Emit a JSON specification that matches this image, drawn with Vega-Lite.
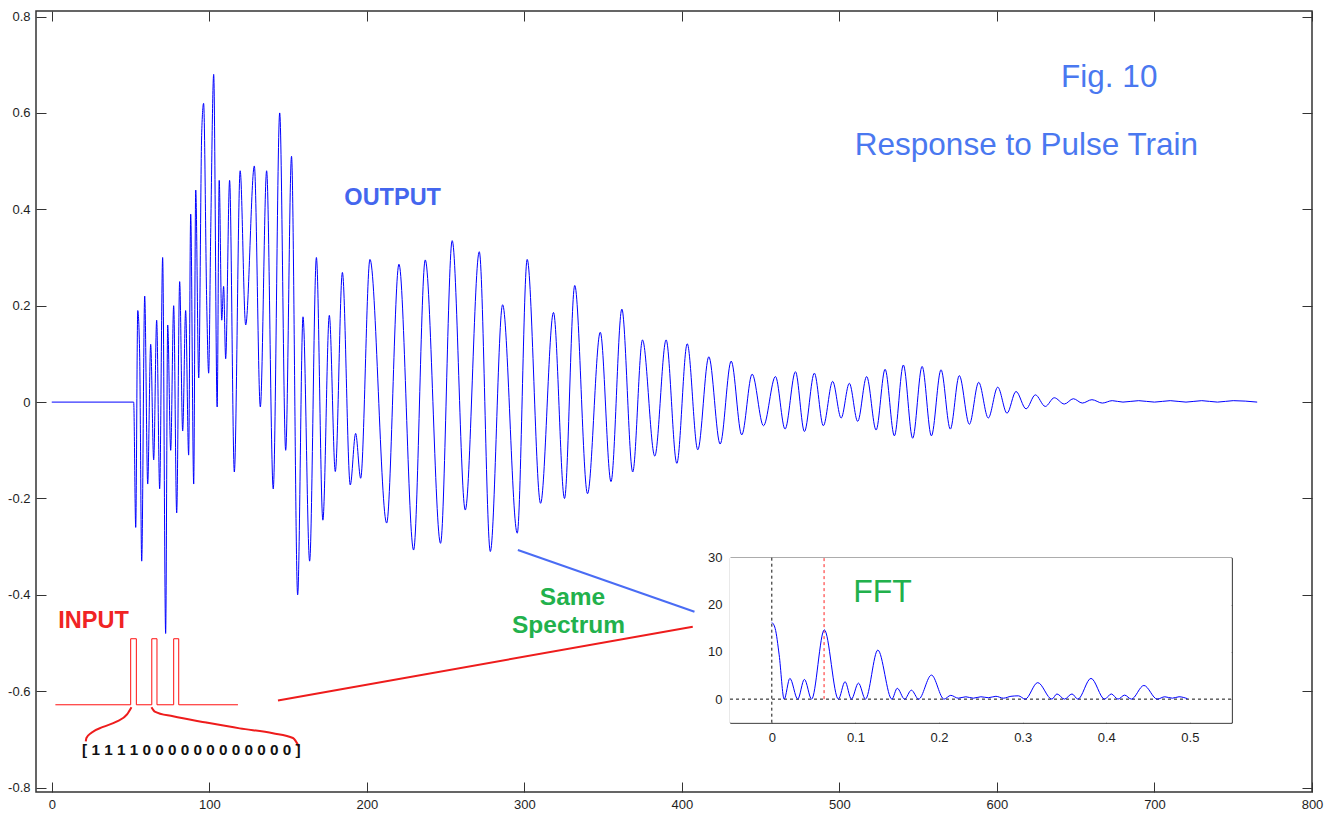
{
"$schema":"https://vega.github.io/schema/vega-lite/v6.json",
"width":1276,"height":781,
"autosize":"none",
"padding":{"left":36,"top":11,"right":28,"bottom":23},
"background":"white",
"config":{"view":{"stroke":"#333","strokeWidth":1.5},
 "axis":{"grid":false,"title":null,"labelFont":"Liberation Sans","labelFontSize":13,"labelColor":"#1e1e1e","tickColor":"#333","domainColor":"#222","domainWidth":1.2,"zindex":1,"labelFlush":false,"labelOverlap":false}},
"datasets":{
"out":[{"x":0,"y":0},{"x":52,"y":0},{"x":53.3,"y":-0.26},{"x":54.6,"y":0.19},{"x":55.8,"y":0.10},{"x":57.1,"y":-0.33},{"x":59.0,"y":0.22},{"x":60.9,"y":-0.17},{"x":62.8,"y":0.12},{"x":64.7,"y":-0.12},{"x":66.6,"y":0.17},{"x":68.5,"y":-0.18},{"x":70.4,"y":0.30},{"x":72.3,"y":-0.48},{"x":73.6,"y":0.16},{"x":75.5,"y":-0.10},{"x":77.4,"y":0.20},{"x":79.3,"y":-0.23},{"x":81.2,"y":0.25},{"x":83.1,"y":-0.06},{"x":85.0,"y":0.19},{"x":86.9,"y":-0.11},{"x":88.2,"y":0.39},{"x":90.1,"y":-0.17},{"x":91.4,"y":0.44},{"x":93.3,"y":0.05},{"x":95.2,"y":0.56},{"x":96.4,"y":0.62},{"x":98.4,"y":0.20},{"x":99.6,"y":0.06},{"x":100.9,"y":0.35},{"x":102.8,"y":0.68},{"x":105.0,"y":-0.01},{"x":106.3,"y":0.46},{"x":107.9,"y":0.17},{"x":109.1,"y":0.24},{"x":110.4,"y":0.09},{"x":112.9,"y":0.46},{"x":115.9,"y":-0.145},{"x":119.6,"y":0.48},{"x":123.1,"y":0.16},{"x":128.6,"y":0.49},{"x":132.4,"y":-0.01},{"x":136.4,"y":0.48},{"x":140.6,"y":-0.18},{"x":144.7,"y":0.60},{"x":148.5,"y":-0.10},{"x":152.2,"y":0.51},{"x":156.1,"y":-0.40},{"x":159.5,"y":0.177},{"x":163.7,"y":-0.33},{"x":168.0,"y":0.30},{"x":172.1,"y":-0.245},{"x":176.2,"y":0.18},{"x":180.0,"y":-0.144},{"x":184.5,"y":0.269},{"x":189.5,"y":-0.172},{"x":192.9,"y":-0.065},{"x":196.1,"y":-0.158},{"x":202.0,"y":0.296},{"x":212.6,"y":-0.251},{"x":220.4,"y":0.286},{"x":229.7,"y":-0.307},{"x":237.1,"y":0.295},{"x":246.8,"y":-0.293},{"x":254.2,"y":0.335},{"x":262.5,"y":-0.224},{"x":271.4,"y":0.312},{"x":278.4,"y":-0.31},{"x":286.2,"y":0.202},{"x":295.5,"y":-0.272},{"x":301.8,"y":0.296},{"x":310.3,"y":-0.21},{"x":318.5,"y":0.186},{"x":325.5,"y":-0.20},{"x":332.0,"y":0.242},{"x":340.1,"y":-0.19},{"x":348.2,"y":0.145},{"x":355.0,"y":-0.165},{"x":361.9,"y":0.193},{"x":368.8,"y":-0.145},{"x":375.0,"y":0.129},{"x":382.8,"y":-0.112},{"x":390.0,"y":0.129},{"x":396.8,"y":-0.127},{"x":403.4,"y":0.121},{"x":410.1,"y":-0.099},{"x":417.1,"y":0.094},{"x":424.3,"y":-0.087},{"x":431.3,"y":0.085},{"x":438.0,"y":-0.068},{"x":444.6,"y":0.058},{"x":451.8,"y":-0.049},{"x":459.4,"y":0.053},{"x":465.5,"y":-0.056},{"x":472.1,"y":0.063},{"x":477.8,"y":-0.061},{"x":484.1,"y":0.06},{"x":489.8,"y":-0.049},{"x":495.7,"y":0.043},{"x":501.1,"y":-0.033},{"x":506.3,"y":0.039},{"x":511.6,"y":-0.04},{"x":517.3,"y":0.053},{"x":523.3,"y":-0.058},{"x":529.0,"y":0.068},{"x":534.9,"y":-0.07},{"x":540.6,"y":0.077},{"x":546.5,"y":-0.075},{"x":552.5,"y":0.074},{"x":558.4,"y":-0.07},{"x":564.5,"y":0.067},{"x":570.4,"y":-0.056},{"x":576.1,"y":0.055},{"x":582.5,"y":-0.046},{"x":588.4,"y":0.041},{"x":594.5,"y":-0.033},{"x":600.5,"y":0.031},{"x":606.4,"y":-0.023},{"x":612.1,"y":0.022},{"x":618.5,"y":-0.014},{"x":624.4,"y":0.015},{"x":630.7,"y":-0.009},{"x":636.4,"y":0.009},{"x":642.8,"y":-0.004},{"x":648.5,"y":0.007},{"x":654.2,"y":-0.002},{"x":660.3,"y":0.005},{"x":666.9,"y":-0.002},{"x":673.2,"y":0.003},{"x":680,"y":0.0},{"x":690,"y":0.003},{"x":700,"y":0.0},{"x":710,"y":0.003},{"x":720,"y":0.0},{"x":730,"y":0.003},{"x":740,"y":0},{"x":750,"y":0.003},{"x":765.2,"y":0}],
"fft":[{"x":0,"y":16.3},{"x":0.004,"y":15.0},{"x":0.0088,"y":9.4},{"x":0.0148,"y":0},{"x":0.0216,"y":4.4},{"x":0.031,"y":0},{"x":0.039,"y":4.2},{"x":0.0476,"y":0},{"x":0.0628,"y":14.7},{"x":0.0796,"y":0},{"x":0.0876,"y":3.7},{"x":0.0952,"y":0},{"x":0.1036,"y":3.4},{"x":0.112,"y":0},{"x":0.1268,"y":10.4},{"x":0.1436,"y":0},{"x":0.15,"y":2.3},{"x":0.1588,"y":0},{"x":0.1669,"y":1.9},{"x":0.1756,"y":0},{"x":0.1909,"y":5.1},{"x":0.206,"y":0},{"x":0.214,"y":0.8},{"x":0.223,"y":0.2},{"x":0.232,"y":0.5},{"x":0.241,"y":0.2},{"x":0.25,"y":0.5},{"x":0.259,"y":0.3},{"x":0.268,"y":0.6},{"x":0.277,"y":0.2},{"x":0.286,"y":0.6},{"x":0.295,"y":0.7},{"x":0.303,"y":0},{"x":0.318,"y":3.5},{"x":0.335,"y":0},{"x":0.341,"y":1.1},{"x":0.35,"y":0},{"x":0.359,"y":1.1},{"x":0.366,"y":0},{"x":0.3817,"y":4.4},{"x":0.398,"y":0},{"x":0.406,"y":1.1},{"x":0.414,"y":0},{"x":0.422,"y":0.85},{"x":0.43,"y":0},{"x":0.445,"y":2.9},{"x":0.461,"y":0},{"x":0.47,"y":0.5},{"x":0.479,"y":0.2},{"x":0.487,"y":0.5},{"x":0.497,"y":0.1}]
},
"layer":[
{"data":{"name":"out"},
 "mark":{"type":"line","color":"#0000ff","strokeWidth":1,"interpolate":"monotone"},
 "encoding":{
  "x":{"field":"x","type":"quantitative","scale":{"domain":[-10,800],"nice":false,"zero":false},
   "axis":{"orient":"bottom","values":[0,100,200,300,400,500,600,700,800],"labelExpr":"''+datum.value","tickSize":-10,"labelPadding":16,"domain":false}},
  "y":{"field":"y","type":"quantitative","scale":{"domain":[-0.809,0.8115],"nice":false,"zero":false},
   "axis":{"orient":"left","values":[-0.8,-0.6,-0.4,-0.2,0,0.2,0.4,0.6,0.8],"labelExpr":"''+datum.value","tickSize":-10,"labelPadding":16,"domain":false}}}},
{"data":{"values":[{"i":0,"x":2.3,"y":-0.628},{"i":1,"x":50.1,"y":-0.628},{"i":2,"x":50.1,"y":-0.491},{"i":3,"x":53.7,"y":-0.491},{"i":4,"x":53.7,"y":-0.628},{"i":5,"x":63.5,"y":-0.628},{"i":6,"x":63.5,"y":-0.491},{"i":7,"x":66.8,"y":-0.491},{"i":8,"x":66.8,"y":-0.628},{"i":9,"x":77.4,"y":-0.628},{"i":10,"x":77.4,"y":-0.491},{"i":11,"x":80.6,"y":-0.491},{"i":12,"x":80.6,"y":-0.628},{"i":13,"x":118.2,"y":-0.628}]},
 "mark":{"type":"line","color":"#ff1010","strokeWidth":1},
 "encoding":{"order":{"field":"i","type":"quantitative"},
  "x":{"field":"x","type":"quantitative","scale":{"domain":[-10,800],"nice":false,"zero":false},
   "axis":{"orient":"top","values":[0,100,200,300,400,500,600,700,800],"labels":false,"tickSize":-10,"domain":false}},
  "y":{"field":"y","type":"quantitative","scale":{"domain":[-0.809,0.8115],"nice":false,"zero":false},
   "axis":{"orient":"right","values":[-0.8,-0.6,-0.4,-0.2,0,0.2,0.4,0.6,0.8],"labels":false,"tickSize":-10,"domain":false}}}},
{"data":{"values":[{"s":"L","i":0,"x":21.6,"y":-0.704},{"s":"L","i":1,"x":22.0,"y":-0.697},{"s":"L","i":2,"x":25.2,"y":-0.686},{"s":"L","i":3,"x":32.6,"y":-0.674},{"s":"L","i":4,"x":41.1,"y":-0.663},{"s":"L","i":5,"x":47.8,"y":-0.648},{"s":"L","i":6,"x":50.6,"y":-0.633},{"s":"R","i":0,"x":63.3,"y":-0.633},{"s":"R","i":1,"x":65.4,"y":-0.642},{"s":"R","i":2,"x":77.0,"y":-0.652},{"s":"R","i":3,"x":98.2,"y":-0.665},{"s":"R","i":4,"x":119.3,"y":-0.677},{"s":"R","i":5,"x":140.4,"y":-0.687},{"s":"R","i":6,"x":153.1,"y":-0.697},{"s":"R","i":7,"x":156.9,"y":-0.715}]},
 "mark":{"type":"line","color":"#ee1c1c","strokeWidth":2,"interpolate":"monotone"},
 "encoding":{"detail":{"field":"s"},"order":{"field":"i","type":"quantitative"},
  "x":{"field":"x","type":"quantitative","scale":{"domain":[-10,800],"nice":false,"zero":false},"axis":null},
  "y":{"field":"y","type":"quantitative","scale":{"domain":[-0.809,0.8115],"nice":false,"zero":false},"axis":null}}},
{"data":{"values":[{"x":295.9,"y":-0.307},{"x":408.0,"y":-0.435}]},
 "mark":{"type":"line","color":"#4a6cf4","strokeWidth":2},
 "encoding":{
  "x":{"field":"x","type":"quantitative","scale":{"domain":[-10,800],"nice":false,"zero":false},"axis":null},
  "y":{"field":"y","type":"quantitative","scale":{"domain":[-0.809,0.8115],"nice":false,"zero":false},"axis":null}}},
{"data":{"values":[{"x":143.6,"y":-0.619},{"x":406.9,"y":-0.466}]},
 "mark":{"type":"line","color":"#ee1c1c","strokeWidth":2},
 "encoding":{
  "x":{"field":"x","type":"quantitative","scale":{"domain":[-10,800],"nice":false,"zero":false},"axis":null},
  "y":{"field":"y","type":"quantitative","scale":{"domain":[-0.809,0.8115],"nice":false,"zero":false},"axis":null}}},
{"data":{"values":[{"t":"Fig. 10","x":671.3,"y":0.6726},{"t":"Response to Pulse Train","x":618.7,"y":0.5315}]},
 "mark":{"type":"text","color":"#4a78f0","font":"Liberation Sans","fontSize":31.5,"align":"center","baseline":"middle"},
 "encoding":{"text":{"field":"t"},
  "x":{"field":"x","type":"quantitative","scale":{"domain":[-10,800],"nice":false,"zero":false},"axis":null},
  "y":{"field":"y","type":"quantitative","scale":{"domain":[-0.809,0.8115],"nice":false,"zero":false},"axis":null}}},
{"data":{"values":[{"t":"OUTPUT","x":216.4,"y":0.4237}]},
 "mark":{"type":"text","color":"#4466ee","font":"Liberation Sans","fontWeight":"bold","fontSize":23.5,"align":"center","baseline":"middle"},
 "encoding":{"text":{"field":"t"},
  "x":{"field":"x","type":"quantitative","scale":{"domain":[-10,800],"nice":false,"zero":false},"axis":null},
  "y":{"field":"y","type":"quantitative","scale":{"domain":[-0.809,0.8115],"nice":false,"zero":false},"axis":null}}},
{"data":{"values":[{"t":"INPUT","x":26.5,"y":-0.454}]},
 "mark":{"type":"text","color":"#f02424","font":"Liberation Sans","fontWeight":"bold","fontSize":23.5,"align":"center","baseline":"middle"},
 "encoding":{"text":{"field":"t"},
  "x":{"field":"x","type":"quantitative","scale":{"domain":[-10,800],"nice":false,"zero":false},"axis":null},
  "y":{"field":"y","type":"quantitative","scale":{"domain":[-0.809,0.8115],"nice":false,"zero":false},"axis":null}}},
{"data":{"values":[{"t":"Same","x":330.6,"y":-0.4056},{"t":"Spectrum","x":328.0,"y":-0.4643}]},
 "mark":{"type":"text","color":"#22b14c","font":"Liberation Sans","fontWeight":"bold","fontSize":24.5,"align":"center","baseline":"middle"},
 "encoding":{"text":{"field":"t"},
  "x":{"field":"x","type":"quantitative","scale":{"domain":[-10,800],"nice":false,"zero":false},"axis":null},
  "y":{"field":"y","type":"quantitative","scale":{"domain":[-0.809,0.8115],"nice":false,"zero":false},"axis":null}}},
{"data":{"values":[{"t":"[ 1 1 1 1 0 0 0 0 0 0 0 0 0 0 0 0 ]","x":88.6,"y":-0.7216}]},
 "mark":{"type":"text","color":"#111","font":"Liberation Sans","fontWeight":"bold","fontSize":15.3,"align":"center","baseline":"middle"},
 "encoding":{"text":{"field":"t"},
  "x":{"field":"x","type":"quantitative","scale":{"domain":[-10,800],"nice":false,"zero":false},"axis":null},
  "y":{"field":"y","type":"quantitative","scale":{"domain":[-0.809,0.8115],"nice":false,"zero":false},"axis":null}}},
{"data":{"values":[{"x":-0.05,"x2":0.55,"y":-5,"y2":30}]},
 "mark":{"type":"rect","fill":"white"},
 "encoding":{
  "x":{"field":"x","type":"quantitative","scale":{"domain":[-0.05,0.55],"range":[694,1195.7],"nice":false,"zero":false},"axis":null},
  "x2":{"field":"x2"},
  "y":{"field":"y","type":"quantitative","scale":{"domain":[-5,30],"range":[711.7,546.7],"nice":false,"zero":false},"axis":null},
  "y2":{"field":"y2"}}},
{"data":{"values":[{"x":-0.05,"x2":0.55,"y":0}]},
 "mark":{"type":"rule","color":"#111","strokeWidth":1,"strokeDash":[3,3]},
 "encoding":{
  "x":{"field":"x","type":"quantitative","scale":{"domain":[-0.05,0.55],"range":[694,1195.7],"nice":false,"zero":false},
   "axis":{"orient":"top","offset":-546.7,"values":[0,0.1,0.2,0.3,0.4,0.5],"labels":false,"tickSize":-5,"domain":true}},
  "x2":{"field":"x2"},
  "y":{"field":"y","type":"quantitative","scale":{"domain":[-5,30],"range":[711.7,546.7],"nice":false,"zero":false},
   "axis":{"orient":"right","offset":-80.3,"values":[0,10,20,30],"labels":false,"tickSize":-5,"domain":true}}}},
{"data":{"values":[{"x":0,"y":-5,"y2":30}]},
 "mark":{"type":"rule","color":"#111","strokeWidth":1,"strokeDash":[3,3]},
 "encoding":{
  "x":{"field":"x","type":"quantitative","scale":{"domain":[-0.05,0.55],"range":[694,1195.7],"nice":false,"zero":false},"axis":null},
  "y":{"field":"y","type":"quantitative","scale":{"domain":[-5,30],"range":[711.7,546.7],"nice":false,"zero":false},"axis":null},
  "y2":{"field":"y2"}}},
{"data":{"values":[{"x":0.0625,"y":0,"y2":30}]},
 "mark":{"type":"rule","color":"#ff2020","strokeWidth":1,"strokeDash":[3,3]},
 "encoding":{
  "x":{"field":"x","type":"quantitative","scale":{"domain":[-0.05,0.55],"range":[694,1195.7],"nice":false,"zero":false},"axis":null},
  "y":{"field":"y","type":"quantitative","scale":{"domain":[-5,30],"range":[711.7,546.7],"nice":false,"zero":false},"axis":null},
  "y2":{"field":"y2"}}},
{"data":{"name":"fft"},
 "mark":{"type":"line","color":"#0000ff","strokeWidth":1,"interpolate":"monotone"},
 "encoding":{
  "x":{"field":"x","type":"quantitative","scale":{"domain":[-0.05,0.55],"range":[694,1195.7],"nice":false,"zero":false},
   "axis":{"orient":"bottom","offset":-69.3,"values":[0,0.1,0.2,0.3,0.4,0.5],"labelExpr":"''+datum.value","tickSize":-5,"labelPadding":14,"domain":true}},
  "y":{"field":"y","type":"quantitative","scale":{"domain":[-5,30],"range":[711.7,546.7],"nice":false,"zero":false},
   "axis":{"orient":"left","offset":-694,"values":[0,10,20,30],"labelExpr":"''+datum.value","tickSize":-5,"labelPadding":13,"domain":true}}}},
{"data":{"values":[{"t":"FFT","x":0.1324,"y":22.7}]},
 "mark":{"type":"text","color":"#22b14c","font":"Liberation Sans","fontSize":32,"align":"center","baseline":"middle"},
 "encoding":{"text":{"field":"t"},
  "x":{"field":"x","type":"quantitative","scale":{"domain":[-0.05,0.55],"range":[694,1195.7],"nice":false,"zero":false},"axis":null},
  "y":{"field":"y","type":"quantitative","scale":{"domain":[-5,30],"range":[711.7,546.7],"nice":false,"zero":false},"axis":null}}}
],
"resolve":{"scale":{"x":"independent","y":"independent"}}
}
